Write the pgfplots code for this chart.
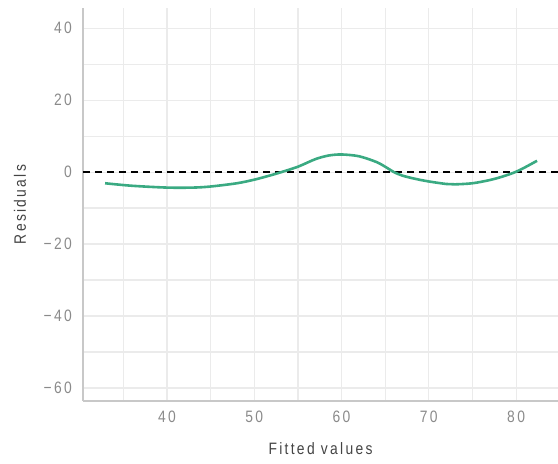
\documentclass[border=0pt]{standalone}
\usepackage{fontspec}
\setmainfont{Liberation Sans}[FakeStretch=0.84, LetterSpace=14]
\usepackage{pgfplots}
\pgfplotsset{compat=1.18}
\definecolor{gridc}{HTML}{EBEBEB}
\definecolor{axc}{HTML}{C8C8C8}
\definecolor{tickc}{HTML}{8A8A8A}
\definecolor{labc}{HTML}{444444}
\definecolor{curve}{RGB}{58,170,130}
\begin{document}
\begin{tikzpicture}[x=1pt,y=1pt]
\begin{axis}[
  at={(0,0)}, anchor=south west,
  scale only axis, width=475pt, height=393pt,
  xmin=30.37, xmax=84.8, ymin=-63.6, ymax=45.6,
  axis lines=left, axis line style={draw=axc, line width=1.4pt, -},
  xtick={40,50,60,70,80}, ytick={-60,-40,-20,0,20,40},
  minor xtick={35,45,55,65,75}, minor ytick={-50,-30,-10,10,30},
  xticklabels={40,50,60,70,80},
  yticklabels={−60,−40,−20,0,20,40},
  major tick length=0pt, minor tick length=0pt,
  grid=both,
  major grid style={draw=gridc, line width=1.2pt},
  minor grid style={draw=gridc, line width=1.2pt},
  tick label style={font=\fontsize{16.5}{18}\selectfont, text=tickc, inner sep=0pt},
  xticklabel style={anchor=center, yshift=-16pt},
  yticklabel style={anchor=east, xshift=-11pt},
  xlabel={Fitted values}, ylabel={Residuals},
  label style={font=\fontsize{16.5}{19}\selectfont, text=labc, inner sep=0pt},
  xlabel style={at={(rel axis cs:0.5,0)}, anchor=center, yshift=-48pt},
  ylabel style={at={(rel axis cs:0,0.5)}, anchor=center, yshift=63pt},
  clip=true,
]
\addplot[black, line width=1.6pt, dash pattern=on 7pt off 5pt] coordinates {(30.37,0) (84.8,0)};
\addplot[curve, line width=2.6pt, smooth, tension=0.5] coordinates {
(32.9,-3.1) (36,-3.8) (40,-4.3) (43,-4.3) (45,-4.0) (48,-3.1) (50,-2.1) (52,-0.8)
(53.1,0) (55,1.5) (57,3.6) (58.5,4.6) (60,4.9) (62,4.4) (64,2.8) (65.2,1.2)
(66,0) (67,-1.0) (68.5,-1.9) (70,-2.6) (72,-3.3) (73,-3.4) (75,-3.1) (77,-2.2)
(78.5,-1.2) (79.9,0) (81,1.3) (82.4,3.15)};
\end{axis}
\pgfresetboundingbox
\path[use as bounding box] (-83pt,-63pt) rectangle (475pt,401pt);
\end{tikzpicture}
\end{document}
